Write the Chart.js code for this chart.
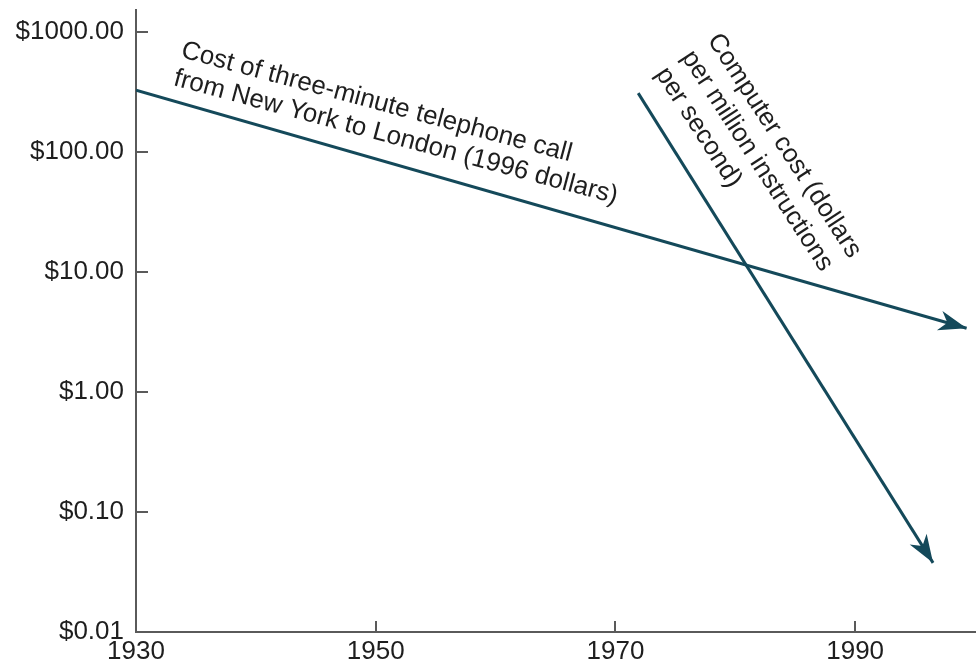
<!DOCTYPE html>
<html lang="en">
<head>
  <meta charset="UTF-8">
  <title>Telephone vs computer cost</title>
  <script src="https://cdn.jsdelivr.net/npm/chart.js"></script>
  <style>
    html, body { margin: 0; padding: 0; background: #fff; }
    #grafico { display: block; }
  </style>
</head>
<body>
  <canvas id="grafico" width="979" height="666"></canvas>
<script>
  // datos
  const phoneYears = [1930, 1999.3];
  const phoneCost = [327, 3.4];
  const computerYears = [1971.9, 1996.5];
  const computerCost = [310, 0.0377];
  const xTicks = [1930, 1950, 1970, 1990];
  const yTicks = [0.01, 0.1, 1, 10, 100, 1000];
  const phoneLabel = ['Cost of three-minute telephone call', 'from New York to London (1996 dollars)'];
  const computerLabel = ['Computer cost (dollars', 'per million instructions', 'per second)'];

  const lineColor = '#14495a';
  const axisColor = '#5a5a5a';
  const fontFamily = "'Liberation Sans', Arial, Helvetica, sans-serif";

  // textos rotados (posicion en pixeles, angulo en grados)
  const notes = [
    { lines: phoneLabel, x: 180, y: 57, angle: 15, step: 29, size: 26 },
    { lines: computerLabel, x: 707, y: 40, angle: 57, step: 31, size: 26 }
  ];

  const toPoints = (xs, ys) => xs.map((x, i) => ({ x: x, y: ys[i] }));

  // flechas al final de cada linea
  const arrowPlugin = {
    id: 'arrows',
    afterDatasetsDraw(chart) {
      const ctx = chart.ctx;
      chart.data.datasets.forEach((ds, i) => {
        const pts = chart.getDatasetMeta(i).data;
        const a = pts[pts.length - 2], b = pts[pts.length - 1];
        const ang = Math.atan2(b.y - a.y, b.x - a.x);
        ctx.save();
        ctx.translate(b.x, b.y);
        ctx.rotate(ang);
        ctx.fillStyle = lineColor;
        ctx.beginPath();
        ctx.moveTo(0, 0);
        ctx.lineTo(-28, -10);
        ctx.lineTo(-20, 0);
        ctx.lineTo(-28, 10);
        ctx.closePath();
        ctx.fill();
        ctx.restore();
      });
    }
  };

  // marcas de los ejes hacia dentro y textos
  const decorPlugin = {
    id: 'decor',
    afterDraw(chart) {
      const ctx = chart.ctx;
      const area = chart.chartArea;
      const xs = chart.scales.x, ys = chart.scales.y;
      ctx.save();
      ctx.strokeStyle = axisColor;
      ctx.lineWidth = 2;
      yTicks.slice(1).forEach(v => {
        const py = Math.round(ys.getPixelForValue(v));
        ctx.beginPath();
        ctx.moveTo(area.left, py);
        ctx.lineTo(area.left + 12, py);
        ctx.stroke();
      });
      xTicks.slice(1).forEach(v => {
        const px = Math.round(xs.getPixelForValue(v));
        ctx.beginPath();
        ctx.moveTo(px, area.bottom);
        ctx.lineTo(px, area.bottom - 11);
        ctx.stroke();
      });
      ctx.restore();

      notes.forEach(n => {
        ctx.save();
        ctx.translate(n.x, n.y);
        ctx.rotate(n.angle * Math.PI / 180);
        ctx.fillStyle = '#1e1e1e';
        ctx.font = n.size + 'px ' + fontFamily;
        ctx.textBaseline = 'alphabetic';
        ctx.textAlign = 'left';
        n.lines.forEach((t, k) => ctx.fillText(t, 0, k * n.step));
        ctx.restore();
      });
    }
  };

  const ctx = document.getElementById('grafico').getContext('2d');
  const chart = new Chart(ctx, {
    type: 'line',
    data: {
      datasets: [
        { data: toPoints(phoneYears, phoneCost), borderColor: lineColor, borderWidth: 3, pointRadius: 0, fill: false },
        { data: toPoints(computerYears, computerCost), borderColor: lineColor, borderWidth: 3, pointRadius: 0, fill: false }
      ]
    },
    options: {
      responsive: false,
      animation: false,
      devicePixelRatio: 1,
      layout: { padding: { top: 10, right: 4, left: 0, bottom: 0 } },
      plugins: { legend: { display: false }, tooltip: { enabled: false } },
      scales: {
        x: {
          type: 'linear',
          min: 1930,
          max: 2000,
          afterBuildTicks: s => { s.ticks = xTicks.map(v => ({ value: v })); },
          afterFit: s => { s.height = 34; s.paddingLeft = 0; s.paddingRight = 0; },
          grid: { display: false, drawTicks: false },
          border: { display: true, color: axisColor, width: 2 },
          ticks: {
            color: '#1e1e1e',
            padding: 4,
            maxRotation: 0,
            autoSkip: false,
            font: { family: fontFamily, size: 26 },
            callback: v => String(v)
          }
        },
        y: {
          type: 'logarithmic',
          min: 0.01,
          max: 1527,
          afterBuildTicks: s => { s.ticks = yTicks.map(v => ({ value: v })); },
          afterFit: s => { s.width = 136; s.paddingTop = 0; s.paddingBottom = 0; },
          grid: { display: false, drawTicks: false },
          border: { display: true, color: axisColor, width: 2 },
          ticks: {
            color: '#1e1e1e',
            padding: 12,
            autoSkip: false,
            font: { family: fontFamily, size: 26 },
            callback: v => '$' + Number(v).toFixed(2)
          }
        }
      }
    },
    plugins: [arrowPlugin, decorPlugin]
  });
</script>
</body>
</html>
